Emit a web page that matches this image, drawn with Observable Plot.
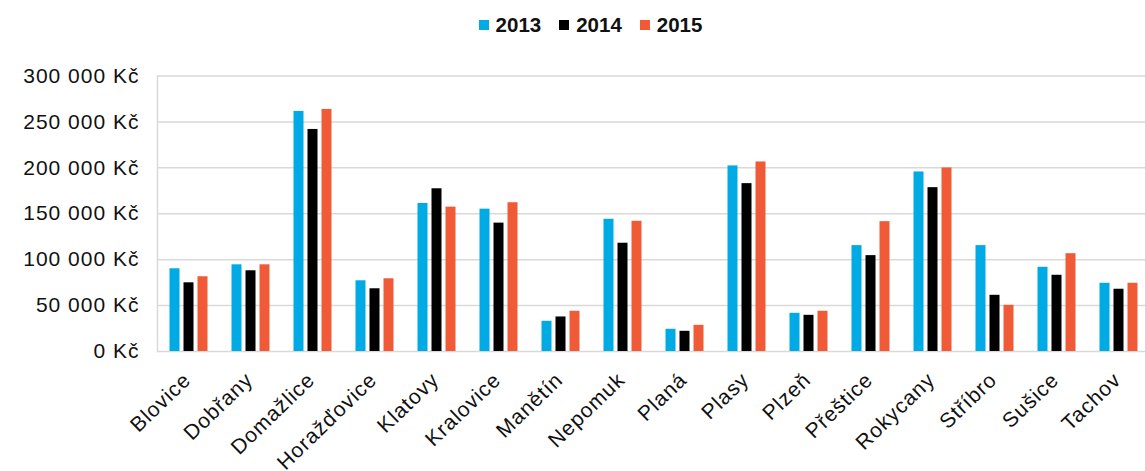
<!DOCTYPE html>
<html>
<head>
<meta charset="utf-8">
<script src="https://cdn.jsdelivr.net/npm/d3@7"></script>
<script src="https://cdn.jsdelivr.net/npm/@observablehq/plot@0.6"></script>
<style>
  body { margin: 0; background: #fff; font-family: "Liberation Sans", Arial, sans-serif; overflow: hidden; }
  #legend { height: 50px; display: flex; justify-content: center; align-items: center; padding-left: 36px; box-sizing: border-box; font-weight: bold; font-size: 20.5px; color: #111; }
  #legend .item { display: flex; align-items: center; margin: 0 9px; }
  #legend .sw { width: 10px; height: 10px; margin-right: 7px; }
  svg [aria-label="y-axis tick label"] text { letter-spacing: 1px; }
  svg [aria-label="text"] text { letter-spacing: 1px; }
</style>
</head>
<body>
<div id="legend"></div>
<div id="chart"></div>
<script>
const categories = ["Blovice","Dobřany","Domažlice","Horažďovice","Klatovy","Kralovice","Manětín","Nepomuk","Planá","Plasy","Plzeň","Přeštice","Rokycany","Stříbro","Sušice","Tachov"];
const years = ["2013","2014","2015"];
const colors = ["#00AAE4", "#000000", "#F15A37"];
const v2013 = [90100, 94400, 261400, 77000, 161200, 155000, 32900, 144000, 24200, 202100, 41600, 115300, 195500, 115300, 91700, 74300];
const v2014 = [74800, 87900, 241800, 68300, 177200, 139800, 37600, 117900, 22000, 182800, 39400, 104400, 178400, 61200, 83000, 67800];
const v2015 = [81400, 94400, 263600, 79200, 157200, 162000, 43800, 141800, 28500, 206400, 43800, 141400, 199900, 50300, 106500, 74300];
const yTicks = [0, 50000, 100000, 150000, 200000, 250000, 300000];

const series = [v2013, v2014, v2015];
const data = [];
categories.forEach((c, i) => {
  years.forEach((y, j) => data.push({city: c, year: y, value: series[j][i]}));
});

const fmt = d => d3.format(",")(d).replace(/,/g, " ") + " Kč";

const legend = document.getElementById("legend");
years.forEach((y, j) => {
  const it = document.createElement("div");
  it.className = "item";
  const sw = document.createElement("span");
  sw.className = "sw";
  sw.style.background = colors[j];
  const t = document.createElement("span");
  t.textContent = y;
  it.appendChild(sw); it.appendChild(t);
  legend.appendChild(it);
});

const chart = Plot.plot({
  width: 1145,
  height: 421,
  marginTop: 25.5,
  marginBottom: 120,
  marginLeft: 153.5,
  marginRight: -7,
  style: {fontFamily: "'Liberation Sans', Arial, sans-serif", color: "#111", background: "#fff", overflow: "visible"},
  fx: {domain: categories, padding: 0, axis: null},
  x: {domain: years, paddingInner: 0.286, paddingOuter: 0.857, axis: null},
  y: {domain: [0, 300000], axis: null},
  color: {domain: years, range: colors},
  marks: [
    Plot.gridY(yTicks, {stroke: "#d9d9d9", strokeOpacity: 1, strokeWidth: 1.5}),
    Plot.frame({anchor: "left", facetAnchor: "left", stroke: "#d9d9d9", strokeWidth: 1.5}),
    Plot.barY(data, {fx: "city", x: "year", y: "value", fill: "year"}),
    Plot.axisY(yTicks, {anchor: "left", label: null, tickFormat: fmt, tickSize: 0, tickPadding: 18, fontSize: 21}),
    Plot.text(categories, {fx: d => d, text: d => d, frameAnchor: "bottom", rotate: -44, textAnchor: "end", lineAnchor: "middle", dx: -1, dy: 25, fontSize: 21, fill: "#111"})
  ]
});
document.getElementById("chart").appendChild(chart);
</script>
</body>
</html>
